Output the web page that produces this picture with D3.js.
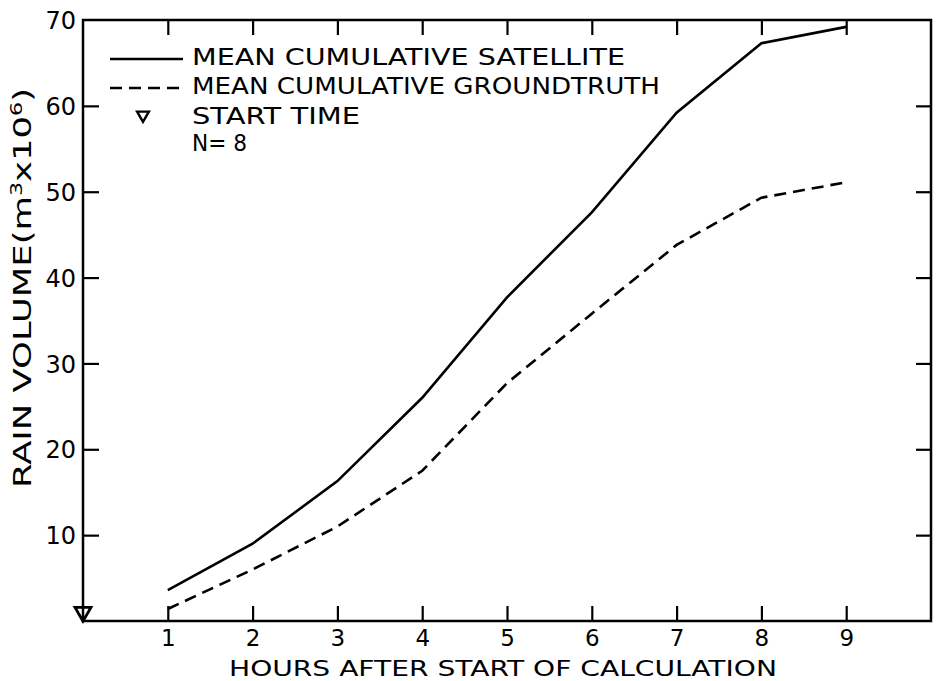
<!DOCTYPE html>
<html>
<head>
<meta charset="utf-8">
<script src="https://cdn.jsdelivr.net/npm/d3@7"></script>
<style>
  body { margin: 0; background: #fff; }
  text { font-family: "DejaVu Sans", sans-serif; fill: #000; }
</style>
</head>
<body>
<div id="chart"></div>
<script>
// hours after start, and mean cumulative rain volume (m3 x 10^6)
var hours = [1, 2, 3, 4, 5, 6, 7, 8, 9];
var satellite = [3.6, 9.0, 16.3, 26.0, 37.7, 47.6, 59.2, 67.3, 69.2];
var groundtruth = [1.4, 6.0, 11.0, 17.5, 27.7, 35.8, 43.8, 49.3, 51.1];
var xTicks = [1, 2, 3, 4, 5, 6, 7, 8, 9];
var yTicks = [10, 20, 30, 40, 50, 60, 70];
var startTime = [{ h: 0, v: 0 }];

var width = 938;
var height = 681;

var svg = d3.select('#chart')
  .append('svg')
  .attr('width', width)
  .attr('height', height);

var x = d3.scaleLinear().domain([0, 10]).range([83, 931]);
var y = d3.scaleLinear().domain([0, 70]).range([621, 20]);

//frame
svg.append('rect')
  .attr('x', x(0)).attr('y', y(70))
  .attr('width', x(10) - x(0)).attr('height', y(0) - y(70))
  .attr('fill', 'none').attr('stroke', '#000').attr('stroke-width', 2.5);

//axes with inward ticks
var axBottom = svg.append('g')
  .attr('transform', 'translate(0,' + y(0) + ')')
  .call(d3.axisBottom(x).tickValues(xTicks).tickSizeInner(-15).tickSizeOuter(0));
var axTop = svg.append('g')
  .attr('transform', 'translate(0,' + y(70) + ')')
  .call(d3.axisTop(x).tickValues(xTicks).tickSizeInner(-15).tickSizeOuter(0).tickFormat(''));
var axLeft = svg.append('g')
  .attr('transform', 'translate(' + x(0) + ',0)')
  .call(d3.axisLeft(y).tickValues(yTicks).tickSizeInner(-16).tickSizeOuter(0).tickPadding(7));
var axRight = svg.append('g')
  .attr('transform', 'translate(' + x(10) + ',0)')
  .call(d3.axisRight(y).tickValues(yTicks.slice(0, 6)).tickSizeInner(-15).tickSizeOuter(0).tickFormat(''));

[axBottom, axTop, axLeft, axRight].forEach(function(g) {
  g.select('.domain').remove();
  g.attr('font-family', null).attr('font-size', null);
  g.selectAll('.tick line').attr('stroke', '#000').attr('stroke-width', 2.2);
  g.selectAll('.tick text').attr('font-size', 24).attr('fill', '#000');
});
axLeft.select('.tick:last-of-type line').remove();
axLeft.selectAll('.tick text').attr('dy', '0.36em');
axBottom.selectAll('.tick text').attr('font-size', 23).attr('y', 25).attr('dy', 0);

//lines
var line = d3.line()
  .x(function(d) { return x(d[0]); })
  .y(function(d) { return y(d[1]); });

svg.append('path')
  .attr('d', line(d3.zip(hours, satellite)))
  .attr('fill', 'none').attr('stroke', '#000').attr('stroke-width', 2.6);

svg.append('path')
  .attr('d', line(d3.zip(hours, groundtruth)))
  .attr('fill', 'none').attr('stroke', '#000').attr('stroke-width', 2.6)
  .attr('stroke-dasharray', '12,7');

//start time marker
var tri = d3.symbol().type(d3.symbolTriangle).size(110);
svg.selectAll('.start')
  .data(startTime)
  .enter()
  .append('path')
  .attr('class', 'start')
  .attr('d', tri)
  .attr('transform', function(d) { return 'translate(' + x(d.h) + ',' + (y(d.v) - 9) + ') rotate(180)'; })
  .attr('fill', 'none').attr('stroke', '#000').attr('stroke-width', 2.8);

//legend
var lg = svg.append('g');
lg.append('line').attr('x1', 110).attr('x2', 183).attr('y1', 59).attr('y2', 59)
  .attr('stroke', '#000').attr('stroke-width', 2.6);
lg.append('line').attr('x1', 110).attr('x2', 183).attr('y1', 88).attr('y2', 88)
  .attr('stroke', '#000').attr('stroke-width', 2.4).attr('stroke-dasharray', '12,7');
lg.append('path').attr('d', d3.symbol().type(d3.symbolTriangle).size(60))
  .attr('transform', 'translate(143,115) rotate(180)')
  .attr('fill', 'none').attr('stroke', '#000').attr('stroke-width', 2.4);

var legendText = [
  ['MEAN CUMULATIVE SATELLITE', 65, 433],
  ['MEAN CUMULATIVE GROUNDTRUTH', 94, 468],
  ['START TIME', 124, 168],
  ['N= 8', 151, 55]
];
lg.selectAll('.lt')
  .data(legendText)
  .enter()
  .append('text')
  .attr('class', 'lt')
  .attr('x', 192)
  .attr('y', function(d) { return d[1]; })
  .attr('font-size', 23)
  .attr('textLength', function(d) { return d[2]; })
  .attr('lengthAdjust', 'spacingAndGlyphs')
  .text(function(d) { return d[0]; });

//axis titles
svg.append('text')
  .attr('x', 503).attr('y', 675.5)
  .attr('text-anchor', 'middle')
  .attr('font-size', 21)
  .attr('textLength', 548)
  .attr('lengthAdjust', 'spacingAndGlyphs')
  .text('HOURS AFTER START OF CALCULATION');

var yl = svg.append('text')
  .attr('transform', 'translate(31,288) rotate(-90)')
  .attr('text-anchor', 'middle')
  .attr('font-size', 24)
  .attr('textLength', 400)
  .attr('lengthAdjust', 'spacingAndGlyphs');
yl.append('tspan').text('RAIN VOLUME(m');
yl.append('tspan').attr('dy', -9).attr('font-size', 15).text('3');
yl.append('tspan').attr('dy', 9).text('x10');
yl.append('tspan').attr('dy', -9).attr('font-size', 15).text('6');
yl.append('tspan').attr('dy', 9).text(')');
</script>
</body>
</html>
